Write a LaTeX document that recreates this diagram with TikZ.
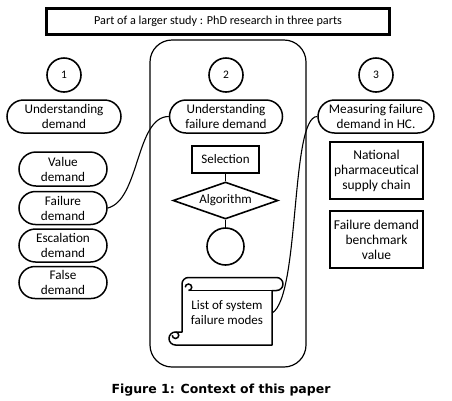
\documentclass[tikz,border=0pt]{standalone}
\usepackage{fontspec}
\setmainfont{Carlito}
\newfontfamily\capfont{DejaVu Sans}
\usetikzlibrary{shapes.geometric,shapes.misc}

\begin{document}
\begin{tikzpicture}[x=1pt,y=-1pt,
    pill/.style={draw,line width=1.5pt,rounded rectangle,align=center,inner sep=1pt,font=\fontsize{13.2}{15}\selectfont},
    numcirc/.style={draw,circle,line width=1.6pt,minimum size=34pt,inner sep=0pt,font=\fontsize{11.5}{13}\selectfont},
    heavybox/.style={draw,line width=2.2pt,align=center,inner sep=1pt,font=\fontsize{13.5}{15}\selectfont},
    link/.style={line width=1.1pt}]
    \useasboundingbox (0,0) rectangle (452,400);

    % Titre
    \node[heavybox,minimum width=343pt,minimum height=26pt,font=\fontsize{12.2}{14}\selectfont] (study) at (218,21.5) {Part of a larger study : PhD research in three parts};

    % Cadre partie 2
    \draw[line width=1.2pt,rounded corners=22pt] (150,40) rectangle (306,367);

    % Numeros
    \node[numcirc] (one) at (64,75) {1};
    \node[numcirc] (two) at (226,75) {2};
    \node[numcirc] (three) at (376,75) {3};

    % Titres des parties
    \node[pill,minimum width=116pt,minimum height=33pt] (ud) at (64,116.5) {Understanding\\demand};
    \node[pill,minimum width=115pt,minimum height=33pt] (ufd) at (226,116.5) {Understanding\\failure demand};
    \node[pill,minimum width=118pt,minimum height=33pt] (hc) at (376,116.5) {Measuring failure\\demand in HC.};

    % Types de demande
    \node[pill,minimum width=90pt,minimum height=34pt] (value) at (63,169) {Value\\demand};
    \node[pill,minimum width=90pt,minimum height=33pt] (failure) at (63,208) {Failure\\demand};
    \node[pill,minimum width=90pt,minimum height=33pt] (escal) at (63,245.5) {Escalation\\demand};
    \node[pill,minimum width=90pt,minimum height=32pt] (false) at (63,282.5) {False\\demand};

    % Partie 2
    \node[heavybox,minimum width=67pt,minimum height=27pt,font=\fontsize{13}{15}\selectfont] (select) at (225.5,159.5) {Selection};
    \node[draw,diamond,aspect=2.8,line width=1.6pt,minimum width=105pt,minimum height=37pt,inner sep=0pt,font=\fontsize{13}{15}\selectfont] (algo) at (225.5,200.5) {Algorithm};
    \node[draw,circle,line width=1.6pt,minimum size=37pt,inner sep=0pt] (result) at (225.5,246.5) {};
    \draw[line width=1.6pt] (select) -- (algo);
    \draw[line width=1.6pt] (algo) -- (result);

    % Parchemin
    \node[align=center,minimum width=90pt,minimum height=64pt,inner sep=0pt,font=\fontsize{13}{15}\selectfont] (modes) at (227,313) {List of system\\failure modes};
    \draw[line width=1.5pt,line join=round] (182,284) arc[start angle=180,end angle=270,radius=6.5]
        -- (276.5,277.5) arc[start angle=270,end angle=450,radius=6.5]
        -- (272,290.5) -- (272,345) -- (175.5,345)
        arc[start angle=90,end angle=270,radius=6.5] -- (182,332) -- cycle;
    \draw[line width=1.5pt] (188.5,290.5) -- (272,290.5);
    \draw[line width=1.5pt] (188.5,290.5) arc[start angle=90,end angle=-180,radius=3.25];
    \draw[line width=1.5pt] (175.5,332) arc[start angle=270,end angle=540,radius=3.25];

    % Partie 3
    \node[heavybox,minimum width=93pt,minimum height=57pt] (supply) at (376.5,170.5) {National\\pharmaceutical\\supply chain};
    \node[heavybox,minimum width=93pt,minimum height=57pt] (bench) at (376.5,239.5) {Failure demand\\benchmark\\value};

    % Liens
    \draw[link] (failure.east) .. controls +(32,-8) and +(-33,0) .. (ufd.west);
    \draw[link] (modes.east) .. controls +(28,-17) and +(-27,0) .. (hc.west);

    % Legende
    \node[font=\capfont\bfseries\fontsize{12.5}{15}\selectfont] (caption) at (221,390) {Figure 1: Context of this paper};
\end{tikzpicture}
\end{document}
